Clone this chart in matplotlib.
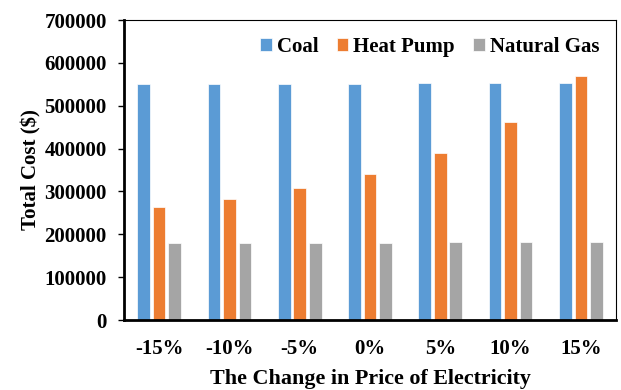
import matplotlib.pyplot as plt
import numpy as np

plt.rcParams['font.family'] = ['Liberation Serif', 'DejaVu Serif']
plt.rcParams['font.weight'] = 'bold'

changes = ['-15%', '-10%', '-5%', '0%', '5%', '10%', '15%']
coal = [551000, 551000, 551000, 551000, 553000, 553000, 553000]
heat_pump = [264000, 282000, 307000, 341000, 390000, 463000, 569000]
natural_gas = [180000, 180000, 180000, 180000, 182500, 182500, 182500]

series = [('Coal', coal, '#5B9BD5'),
          ('Heat Pump', heat_pump, '#ED7D31'),
          ('Natural Gas', natural_gas, '#A5A5A5')]

fig = plt.figure(figsize=(6.21, 3.9), dpi=100)
ax = fig.add_axes([124/621, 70/390, 492/621, 300/390])

x = np.arange(len(changes))
w = 0.18
step = 0.22
for i, (name, vals, col) in enumerate(series):
    ax.bar(x + (i - 1) * step, vals, w, color=col, label=name,
           edgecolor='white', linewidth=0.5)

ax.set_xlim(-0.5, len(changes) - 0.5)
ax.set_ylim(0, 700000)
ax.set_yticks(range(0, 700001, 100000))
ax.set_xticks(x)
ax.set_xticklabels(changes)
ax.tick_params(labelsize=15)
ax.tick_params(axis='y', length=4.5, width=1, pad=8)
ax.tick_params(axis='x', length=0, pad=14)
for s in ['top', 'right']:
    ax.spines[s].set_linewidth(0.8)
for s in ['left', 'bottom']:
    ax.spines[s].set_linewidth(2)

ax.set_xlabel('The Change in Price of Electricity', fontsize=15.8, fontweight='bold', labelpad=7)
ax.set_ylabel('Total Cost ($)', fontsize=15, fontweight='bold', labelpad=2)

ax.legend(loc='upper right', ncol=3, frameon=False, fontsize=15,
          handlelength=0.55, handleheight=0.55, handletextpad=0.25,
          columnspacing=0.87, bbox_to_anchor=(1.0, 1.0), borderaxespad=0.4)

fig.savefig('out.png', dpi=100)
